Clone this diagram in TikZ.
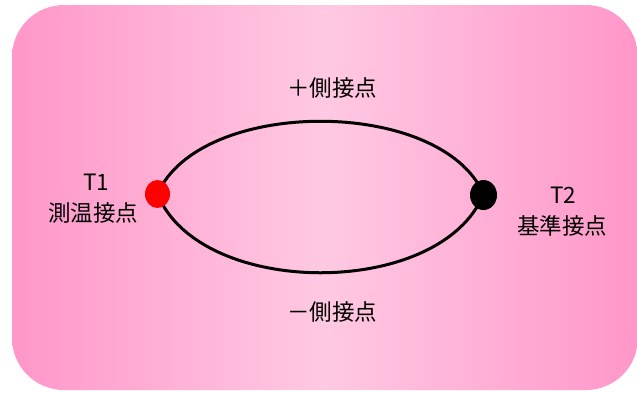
\documentclass[tikz,border=0pt]{standalone}
\usepackage{fontspec}
\setmainfont{Noto Sans CJK JP}
\usetikzlibrary{shapes.geometric}
\definecolor{pinkedge}{HTML}{FF97C9}
\definecolor{pinkmid}{HTML}{FFC9E2}
\tikzset{
  lbl/.style={font=\fontsize{22.5}{26}\selectfont, inner sep=0pt, text=black},
  wire/.style={line width=3pt, black},
  junction/.style={ellipse, inner sep=0pt}
}
\begin{document}
\begin{tikzpicture}[x=1pt, y=-1pt]
\useasboundingbox (0,0) rectangle (637,392);
\shade[left color=pinkedge, right color=pinkedge, middle color=pinkmid, rounded corners=52pt]
  (12,5) rectangle (638,390);
\coordinate (a) at (157.5,194);
\coordinate (b) at (483.5,194);
\draw[wire] (a) .. controls (200,97) and (441,97) .. (b);
\draw[wire] (a) .. controls (200,299) and (441,299) .. (b);
\node[junction, fill=red, minimum width=25pt, minimum height=28pt] (t1) at (a) {};
\node[junction, fill=black, minimum width=27pt, minimum height=30pt] (t2) at (483.5,195) {};
\node[lbl] (plus) at (332,88) {＋側接点};
\node[lbl] (minus) at (332,312) {－側接点};
\node[lbl] (t1a) at (96,182) {T1};
\node[lbl] (t1b) at (93,213) {測温接点};
\node[lbl] (t2a) at (563,195) {T2};
\node[lbl] (t2b) at (562,226) {基準接点};
\end{tikzpicture}
\end{document}
